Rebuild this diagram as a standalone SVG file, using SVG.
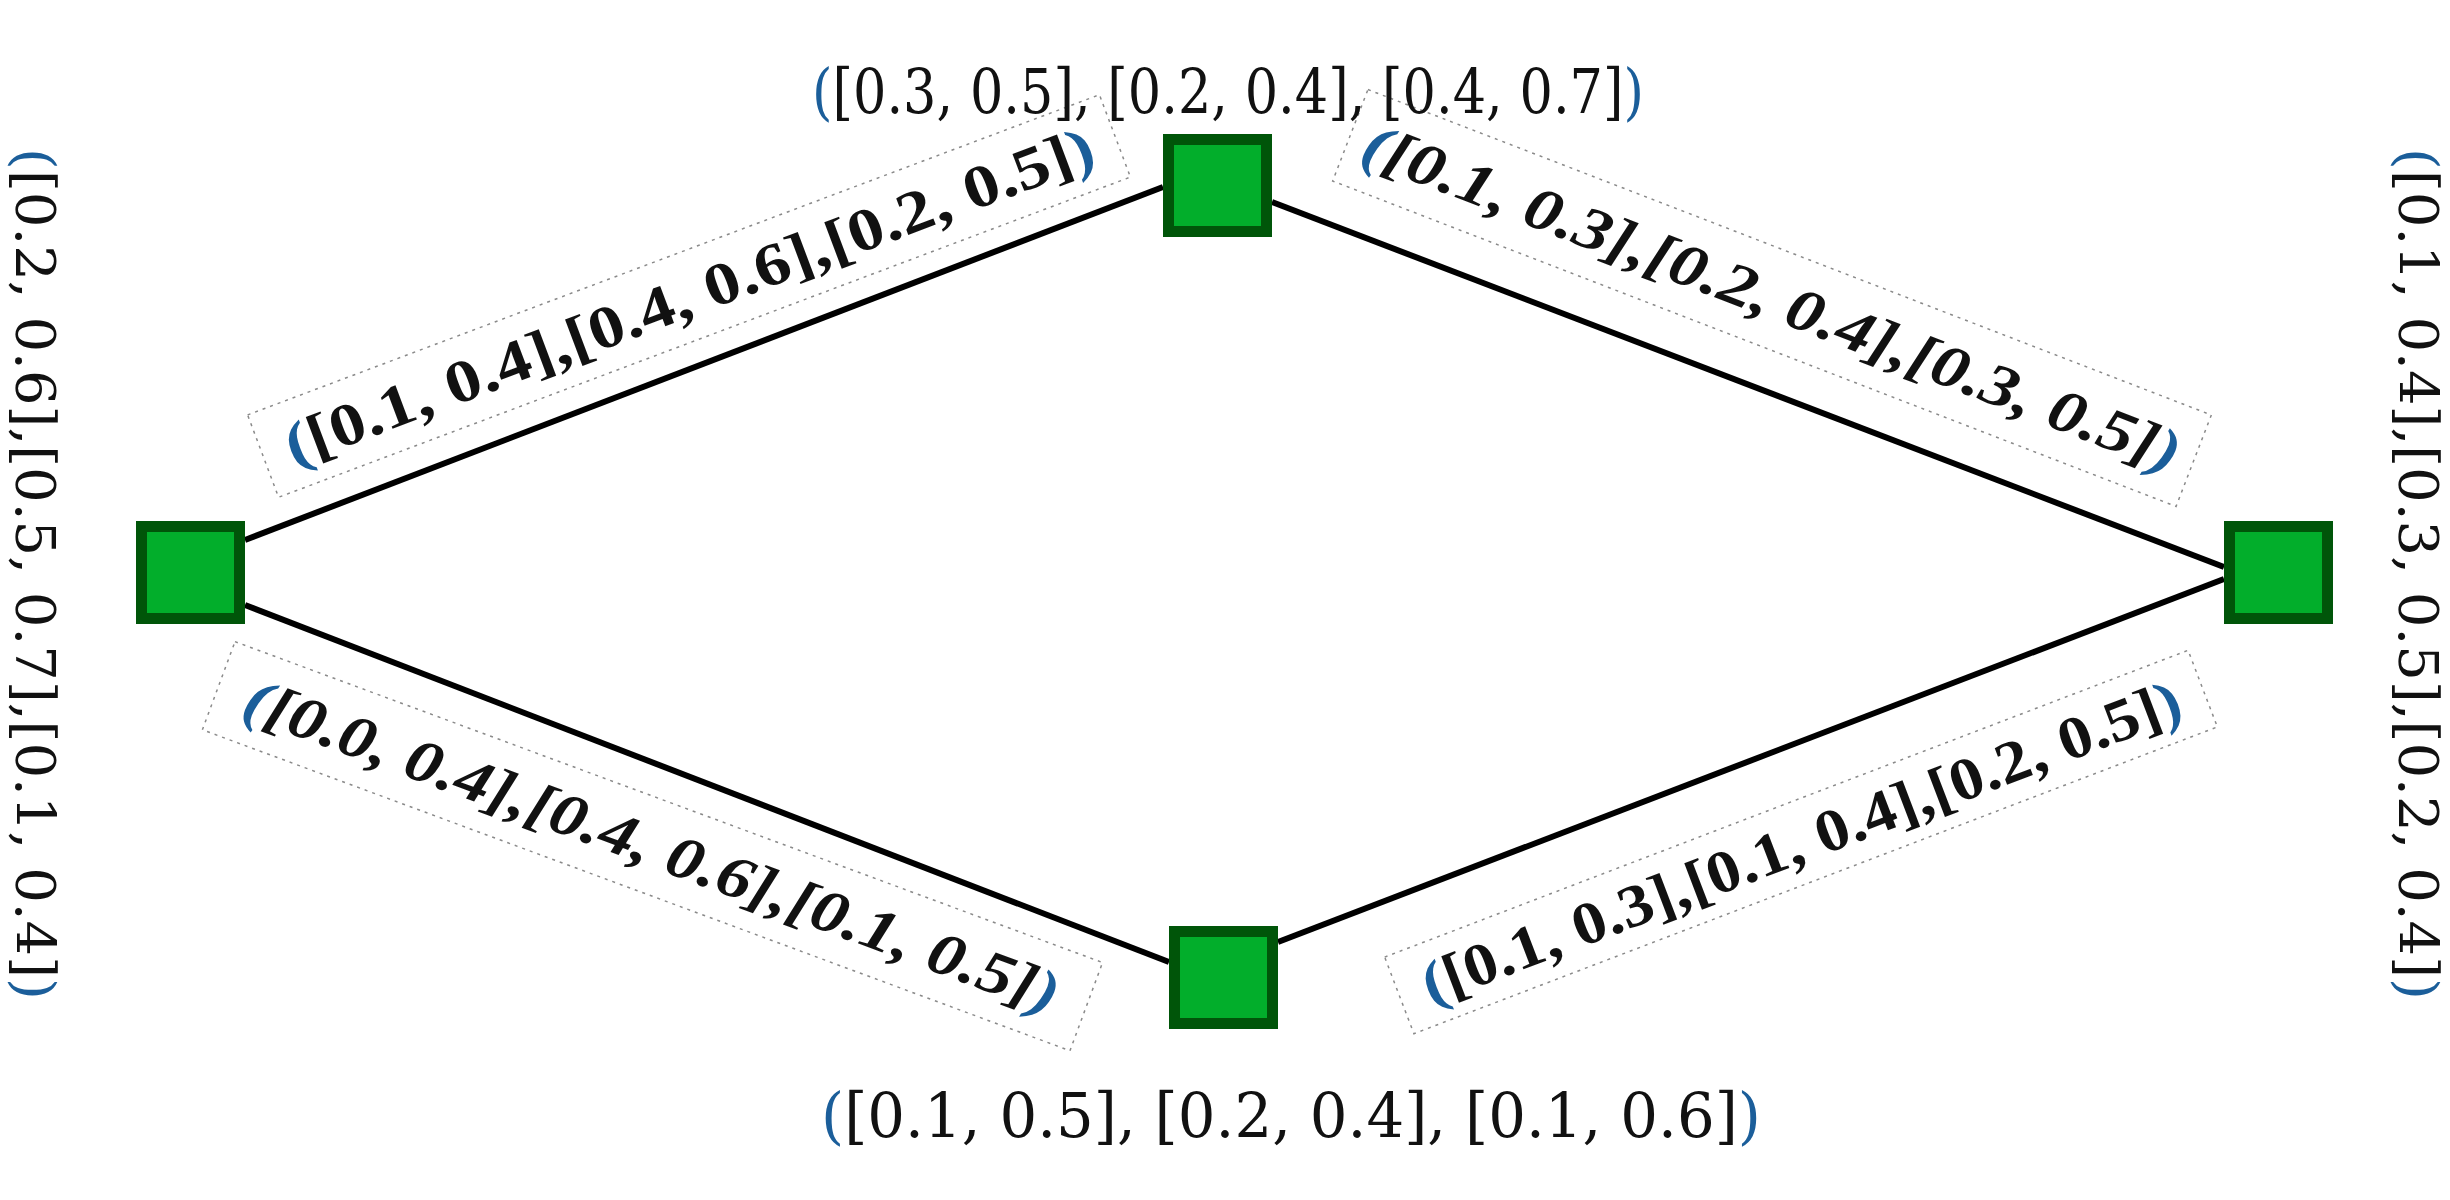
<svg xmlns="http://www.w3.org/2000/svg" width="2450" height="1200" viewBox="0 0 2450 1200">
<style>
.bg{fill:#ffffff}
.node{fill:#02AE2B;stroke:#005509;stroke-width:11}
.edge{stroke:#000;stroke-width:6;fill:none}
.box{fill:none;stroke:#8a8a8a;stroke-width:1.5;stroke-dasharray:3 5}
.nl{font-family:"DejaVu Serif","Liberation Serif",serif;font-size:62px;fill:#111}
.sl{font-family:"DejaVu Serif","Liberation Serif",serif;font-size:55px;fill:#111}
.el{font-family:"Liberation Serif","DejaVu Serif",serif;font-size:60px;font-weight:bold;fill:#111}
.it{font-style:italic}
.p{fill:#1b5e9a}
</style>
<rect class="bg" x="0" y="0" width="2450" height="1200"/>
<g id="connectors">
  <line class="edge" x1="245" y1="540" x2="1163" y2="187"/>
  <line class="edge" x1="1272" y1="202" x2="2224" y2="567"/>
  <line class="edge" x1="245" y1="605" x2="1169" y2="962"/>
  <line class="edge" x1="1278" y1="942" x2="2224" y2="579"/>
</g>
<g id="edge-labels">
  <g id="label-left-top" transform="translate(689,296) rotate(-20.6)">
    <rect class="box" x="-455" y="-44" width="910" height="88"/>
    <text class="el" x="0" y="20" text-anchor="middle" textLength="860" lengthAdjust="spacingAndGlyphs"><tspan class="p">(</tspan>[0.1, 0.4],[0.4, 0.6],[0.2, 0.5]<tspan class="p">)</tspan></text>
  </g>
  <g id="label-top-right" transform="translate(1772,298) rotate(21.1)">
    <rect class="box" x="-452" y="-49" width="904" height="98"/>
    <text class="el it" x="0" y="20" text-anchor="middle" textLength="872" lengthAdjust="spacingAndGlyphs"><tspan class="p">(</tspan>[0.1, 0.3],[0.2, 0.4],[0.3, 0.5]<tspan class="p">)</tspan></text>
  </g>
  <g id="label-left-bottom" transform="translate(652,846) rotate(20.3)">
    <rect class="box" x="-462" y="-47" width="925" height="94"/>
    <text class="el it" x="0" y="20" text-anchor="middle" textLength="865" lengthAdjust="spacingAndGlyphs"><tspan class="p">(</tspan>[0.0, 0.4],[0.4, 0.6],[0.1, 0.5]<tspan class="p">)</tspan></text>
  </g>
  <g id="label-bottom-right" transform="translate(1801,842) rotate(-20.9)">
    <rect class="box" x="-430" y="-41" width="860" height="82"/>
    <text class="el" x="0" y="20" text-anchor="middle" textLength="808" lengthAdjust="spacingAndGlyphs"><tspan class="p">(</tspan>[0.1, 0.3],[0.1, 0.4],[0.2, 0.5]<tspan class="p">)</tspan></text>
  </g>
</g>
<g id="node-top">
  <rect class="node" x="1168.5" y="139.5" width="98" height="92"/>
  <text class="nl" x="1228" y="113" text-anchor="middle" textLength="832" lengthAdjust="spacingAndGlyphs"><tspan class="p">(</tspan>[0.3, 0.5], [0.2, 0.4], [0.4, 0.7]<tspan class="p">)</tspan></text>
</g>
<g id="node-left">
  <rect class="node" x="141.5" y="526.5" width="98" height="92"/>
  <text class="sl" transform="translate(16,574) rotate(90)" x="0" y="0" text-anchor="middle" textLength="852" lengthAdjust="spacingAndGlyphs"><tspan class="p">(</tspan>[0.2, 0.6],[0.5, 0.7],[0.1, 0.4]<tspan class="p">)</tspan></text>
</g>
<g id="node-right">
  <rect class="node" x="2229.5" y="526.5" width="98" height="92"/>
  <text class="sl" transform="translate(2399,574) rotate(90)" x="0" y="0" text-anchor="middle" textLength="852" lengthAdjust="spacingAndGlyphs"><tspan class="p">(</tspan>[0.1, 0.4],[0.3, 0.5],[0.2, 0.4]<tspan class="p">)</tspan></text>
</g>
<g id="node-bottom">
  <rect class="node" x="1174.5" y="931.5" width="98" height="92"/>
  <text class="nl" x="1291" y="1137" text-anchor="middle" textLength="940" lengthAdjust="spacingAndGlyphs"><tspan class="p">(</tspan>[0.1, 0.5], [0.2, 0.4], [0.1, 0.6]<tspan class="p">)</tspan></text>
</g>
</svg>
